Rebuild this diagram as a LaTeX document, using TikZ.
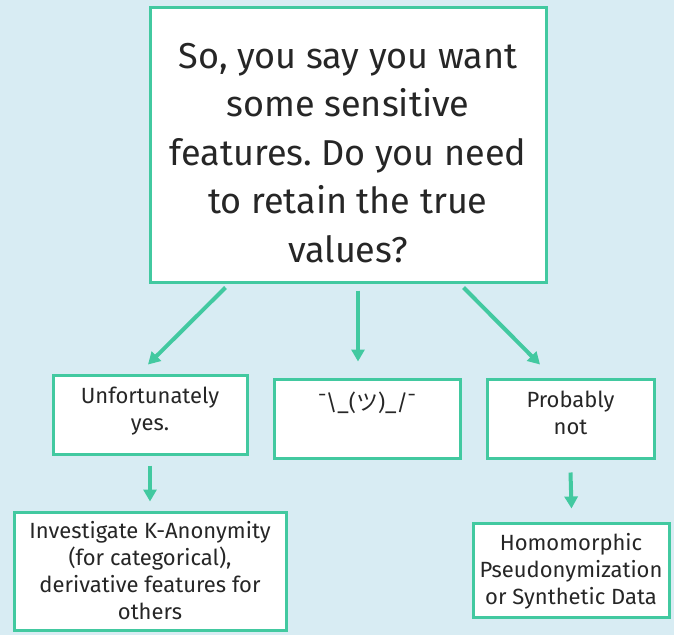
\documentclass[tikz,border=0pt]{standalone}
\usepackage{fontspec}
\setmainfont{Fira Sans}
\newfontfamily\cjk{Noto Sans CJK JP}
\usetikzlibrary{arrows.meta,calc}
\frenchspacing
\definecolor{teal}{RGB}{66,201,160}
\definecolor{bg}{RGB}{216,236,243}
\definecolor{ink}{RGB}{38,38,38}
\newcommand{\bigtxt}{\fontsize{36}{48.5}\selectfont}
\newcommand{\smalltxt}{\fontsize{22}{27}\selectfont}
\newcommand{\lines}[1]{\begin{tabular}[t]{@{}c@{}}#1\end{tabular}}
\begin{document}
\begin{tikzpicture}[x=1pt,y=-1pt,
  box/.style={draw=teal,line width=3pt,fill=white,inner sep=0pt},
  txt/.style={anchor=base,inner sep=0pt,text=ink},
  arr/.style={draw=teal,line width=4pt,-{Triangle[width=13pt,length=12pt]}}]
\fill[bg] (0,0) rectangle (674,635);
\useasboundingbox (0,0) rectangle (674,635);
% boxes
\node[box,minimum width=396pt,minimum height=275pt] (main) at (348,144.5) {};
\node[box,minimum width=194pt,minimum height=79pt] (b1) at (150,414.5) {};
\node[box,minimum width=186pt,minimum height=79pt] (b2) at (367,418.5) {};
\node[box,minimum width=167pt,minimum height=79pt] (b3) at (570.5,418.5) {};
\node[box,minimum width=272pt,minimum height=118pt] (b4) at (150,571) {};
\node[box,minimum width=196pt,minimum height=94pt] (b5) at (571,570) {};
% texts
\node[txt,font=\bigtxt] (t0) at (348,68) {\lines{So, you say you want\\some sensitive\\features. Do you need\\to retain the true\\values?}};
\node[txt,font=\smalltxt] (t1) at (150,403) {\lines{Unfortunately\\yes.}};
\node[txt,font=\smalltxt] (t2) at (367,410) {¯\textbackslash\_({\cjk ツ})\_/¯};
\node[txt,font=\smalltxt] (t3) at (570.5,407) {\lines{Probably\\not}};
\node[txt,font=\smalltxt] (t4) at (150,538) {\lines{Investigate K-Anonymity\\(for categorical),\\derivative features for\\others}};
\node[txt,font=\smalltxt] (t5) at (571,550) {\lines{Homomorphic\\Pseudonymization\\or Synthetic Data}};
% arrows
\draw[arr] ([xshift=77pt,yshift=-4pt]main.south west) -- ([xshift=-2pt,yshift=9pt]b1.north);
\draw[arr] ([xshift=10pt,yshift=-7pt]main.south) -- ([xshift=-9pt,yshift=16pt]b2.north);
\draw[arr] ([xshift=-84pt,yshift=-4pt]main.south east) -- ([xshift=-30.5pt,yshift=13pt]b3.north);
\draw[arr] ([yshift=-10pt]b1.south) -- ([yshift=9pt]b4.north);
\draw[arr] ([yshift=-13pt]b3.south) -- ([xshift=0.5pt,yshift=13pt]b5.north);
\end{tikzpicture}
\end{document}
